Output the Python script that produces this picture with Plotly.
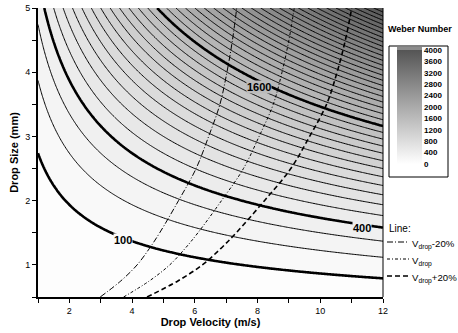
import numpy as np
import plotly.graph_objects as go

# ---------------- data ----------------
# Weber-number field: We = K * v * d^2, scaled so that We = 4000 at (12 m/s, 5 mm)
WE_MAX = 4000
V_AT_MAX, D_AT_MAX = 12.0, 5.0
K = WE_MAX / (V_AT_MAX * D_AT_MAX ** 2)

velocity_axis = np.linspace(1, 12, 221)
size_axis = np.linspace(0.5, 5, 226)
VV, DD = np.meshgrid(velocity_axis, size_axis)
weber = K * VV * DD ** 2

contour_step = 100
bold_levels = [100, 400, 1600]
label_pos = {100: (3.70, 1.39), 400: (11.34, 1.58), 1600: (8.06, 3.77)}

drop_size = [0.5, 0.75, 1.0, 1.25, 1.5, 2.0, 2.5, 3.0, 3.5, 4.0, 4.5, 5.0]
v_drop = [3.73, 4.55, 5.2, 5.68, 6.1, 6.85, 7.55, 8.05, 8.5, 8.78, 9.0, 9.17]
series_names = ["-20%", "", "+20%"]
series_factor = [0.8, 1.0, 1.2]
series_dash = ["6px,2px,1px,2px", "3px,2px,1px,2px", "5px,3px"]
series_width = [1, 1, 1.6]

colorbar_ticks = list(range(0, 4001, 400))
x_ticks = [2, 4, 6, 8, 10, 12]
y_ticks = [1, 2, 3, 4, 5]

# ---------------- layout helpers ----------------
W, H = 458, 333
ML, MR, MT, MB = 38, 75, 8, 36
PW, PH = W - ML - MR, H - MT - MB


def px(x):
    return (x - ML) / PW


def py(y):
    return (H - MB - y) / PH


FONT = "Liberation Sans, Arial, sans-serif"
TOP_GRAY = 0x55
cscale = [[0, "#ffffff"], [1, f"rgb({TOP_GRAY},{TOP_GRAY},{TOP_GRAY})"]]


def gray_at(z):
    t = min(max(z / WE_MAX, 0), 1)
    g = int(round(255 + (TOP_GRAY - 255) * t))
    return f"rgb({g},{g},{g})"


fig = go.Figure()

fig.add_trace(go.Contour(
    x=velocity_axis, y=size_axis, z=weber,
    zmin=0, zmax=WE_MAX, autocontour=False,
    contours=dict(start=0, end=WE_MAX, size=contour_step, coloring="fill", showlines=True),
    line=dict(color="black", width=1),
    colorscale=cscale, showscale=False,
    hoverinfo="skip",
))

for lvl in bold_levels:
    fig.add_trace(go.Contour(
        x=velocity_axis, y=size_axis, z=weber,
        autocontour=False,
        contours=dict(start=lvl, end=lvl, size=1, coloring="none"),
        line=dict(color="black", width=2.6),
        showscale=False, hoverinfo="skip",
    ))

for name, f, dash, w in zip(series_names, series_factor, series_dash, series_width):
    fig.add_trace(go.Scatter(
        x=[v * f for v in v_drop], y=drop_size, mode="lines",
        line=dict(color="black", width=w, dash=dash, shape="spline"),
        showlegend=False, hoverinfo="skip",
    ))

# continuous colour bar (like the reference's gradient legend)
fig.add_trace(go.Scatter(
    x=[None], y=[None], mode="markers", showlegend=False, hoverinfo="skip",
    marker=dict(
        color=[0], cmin=0, cmax=WE_MAX, colorscale=cscale, showscale=True,
        colorbar=dict(
            x=px(397), xanchor="left", xpad=0, ypad=0,
            y=py(107), yanchor="middle",
            len=114, lenmode="pixels",
            thickness=25, thicknessmode="pixels",
            outlinewidth=0, ticks="",
            tickvals=colorbar_ticks, ticktext=[f"<b>{t}</b>" for t in colorbar_ticks],
            tickfont=dict(family=FONT, size=8, color="black"),
        ),
    ),
))

annotations = []
for lvl in bold_levels:
    x, y = label_pos[lvl]
    annotations.append(dict(
        x=x, y=y, xref="x", yref="y", text=f"<b>{lvl}</b>", showarrow=False,
        font=dict(family=FONT, size=11, color="black"),
        bgcolor=gray_at(lvl), borderpad=0,
    ))

annotations.append(dict(
    x=px(386), y=py(29), xref="paper", yref="paper", xanchor="left", yanchor="middle",
    text="<b>Weber Number</b>", showarrow=False,
    font=dict(family=FONT, size=9, color="black"),
))
annotations.append(dict(
    x=px(387), y=py(228), xref="paper", yref="paper", xanchor="left", yanchor="middle",
    text="Line:", showarrow=False, font=dict(family=FONT, size=10, color="black"),
))

shapes = [
    dict(type="rect", xref="paper", yref="paper", x0=px(389), x1=px(448), y0=py(177), y1=py(46),
         line=dict(color="black", width=1)),
    # light cap strip at the top of the colour bar
    dict(type="rect", xref="paper", yref="paper", x0=px(397), x1=px(422), y0=py(50), y1=py(47),
         line=dict(width=0), fillcolor="#8c8c8c"),
    dict(type="line", xref="paper", yref="paper", x0=1, x1=1, y0=0, y1=1,
         line=dict(color="black", width=1)),
]

legend_y = [242, 259, 276]
for name, dash, w, yy in zip(series_names, series_dash, series_width, legend_y):
    shapes.append(dict(type="line", xref="paper", yref="paper", x0=px(387), x1=px(409),
                       y0=py(yy), y1=py(yy), line=dict(color="black", width=w, dash=dash)))
    annotations.append(dict(
        x=px(410), y=py(yy + 2), xref="paper", yref="paper", xanchor="left", yanchor="middle",
        text=f"V<sub>drop</sub>{name}", showarrow=False,
        font=dict(family=FONT, size=9.6, color="black"),
    ))

fig.update_layout(
    template="none",
    width=W, height=H,
    margin=dict(l=ML, r=MR, t=MT, b=MB, pad=0, autoexpand=False),
    paper_bgcolor="white", plot_bgcolor="white",
    showlegend=False,
    font=dict(family=FONT, color="black"),
    annotations=annotations, shapes=shapes,
    xaxis=dict(
        range=[1, 12], tickvals=x_ticks, ticks="outside", ticklen=4, tickcolor="black",
        minor=dict(dtick=1, tick0=1, ticks="outside", ticklen=4, tickcolor="black"),
        showline=True, linewidth=2, linecolor="black", showgrid=False, zeroline=False,
        automargin=False,
        tickfont=dict(family=FONT, size=9, color="black"),
        title=dict(text="<b>Drop Velocity (m/s)</b>", font=dict(family=FONT, size=11), standoff=2),
    ),
    yaxis=dict(
        range=[0.5, 5], tickvals=y_ticks, ticks="outside", ticklen=4, tickcolor="black",
        minor=dict(dtick=0.5, tick0=0.5, ticks="outside", ticklen=4, tickcolor="black"),
        showline=True, linewidth=2, linecolor="black", showgrid=False, zeroline=False,
        automargin=False,
        tickfont=dict(family=FONT, size=9, color="black"),
        title=dict(text="<b>Drop Size (mm)</b>", font=dict(family=FONT, size=11), standoff=4),
    ),
)

fig.write_html(
    "out.html",
    config={"displayModeBar": False, "staticPlot": True},
    post_script="document.body.style.margin='0';document.body.style.padding='0';"
                "document.documentElement.style.margin='0';"
                "document.body.style.overflow='hidden';",
)
